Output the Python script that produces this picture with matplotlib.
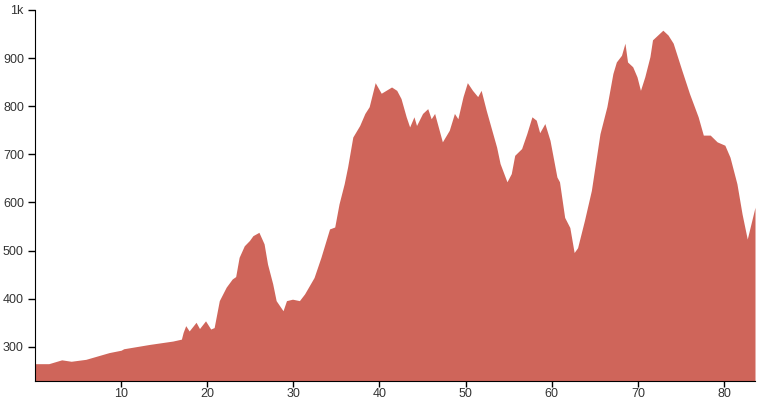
import matplotlib.pyplot as plt

# distance (km) and elevation (m)
dist = [0, 1.6, 3.1, 4.2, 5.9, 8.6, 10, 10.3, 13.3, 16, 17, 17.2, 17.5, 17.9, 18.7, 19.1,
        19.8, 20.4, 20.8, 21.4, 22.2, 22.9, 23.3, 23.7, 24.3, 24.9, 25.3, 26.0, 26.6,
        27.0, 27.6, 28.0, 28.8, 29.2, 29.9, 30.7, 31.3, 32.4, 33.2, 34.2, 34.8, 35.3,
        35.9, 36.3, 36.9, 37.7, 38.3, 38.8, 39.5, 40.2, 41.4, 42.0, 42.5, 43.1, 43.5,
        44.0, 44.3, 45.0, 45.6, 46.0, 46.4, 47.3, 48.1, 48.7, 49.1, 49.7, 50.2, 50.8,
        51.4, 51.8, 52.4, 53.6, 54.0, 54.8, 55.3, 55.7, 56.5, 57.1, 57.7, 58.2, 58.6,
        59.2, 59.8, 60.6, 60.9, 61.5, 62.1, 62.6, 63.0, 63.8, 64.6, 65.6, 66.4, 67.1,
        67.5, 68.1, 68.5, 68.8, 69.4, 69.9, 70.3, 70.8, 71.4, 71.7, 72.3, 72.9, 73.5,
        74.1, 75.1, 76.0, 77.0, 77.6, 78.4, 79.2, 80.1, 80.7, 81.5, 82.1, 82.7, 83.6]
elev = [265, 265, 273, 270, 274, 288, 293, 296, 305, 312, 316, 330, 344, 333, 351, 338,
        354, 337, 340, 396, 424, 441, 446, 486, 510, 521, 531, 538, 514,
        472, 431, 396, 375, 396, 399, 396, 410, 444, 486, 545, 549, 597,
        639, 674, 736, 760, 785, 799, 849, 827, 840, 833, 816, 778, 757,
        778, 760, 785, 795, 774, 785, 726, 750, 785, 774, 820, 849, 833,
        820, 833, 791, 715, 681, 643, 660, 698, 712, 743, 778, 771, 745,
        764, 729, 653, 643, 569, 548, 496, 506, 563, 625, 743, 799, 868,
        892, 906, 931, 892, 882, 861, 833, 861, 903, 938, 948, 958, 948,
        931, 875, 826, 778, 740, 740, 726, 719, 694, 639, 576, 524, 590]

yticks = [300, 400, 500, 600, 700, 800, 900, 1000]
ytick_labels = ["300", "400", "500", "600", "700", "800", "900", "1k"]
xticks = [10, 20, 30, 40, 50, 60, 70, 80]

plt.rcParams['font.family'] = ['Liberation Sans', 'DejaVu Sans']

fig = plt.figure(figsize=(7.64, 4), dpi=100)
ax = fig.add_axes([35 / 764, 19 / 400, 720 / 764, 371 / 400])

ymin = 229
ax.fill_between(dist, elev, ymin, color="#cf655a", linewidth=0)

ax.set_xlim(0, 83.6)
ax.set_ylim(ymin, 1000)
ax.set_yticks(yticks)
ax.set_yticklabels(ytick_labels)
ax.set_xticks(xticks)

ax.spines['top'].set_visible(False)
ax.spines['right'].set_visible(False)
ax.tick_params(axis='both', labelsize=9, labelcolor="#333333", color="black", width=1)
ax.tick_params(axis='x', length=4, pad=1)
ax.tick_params(axis='y', length=5, pad=3)

fig.savefig("out.png", dpi=100)
